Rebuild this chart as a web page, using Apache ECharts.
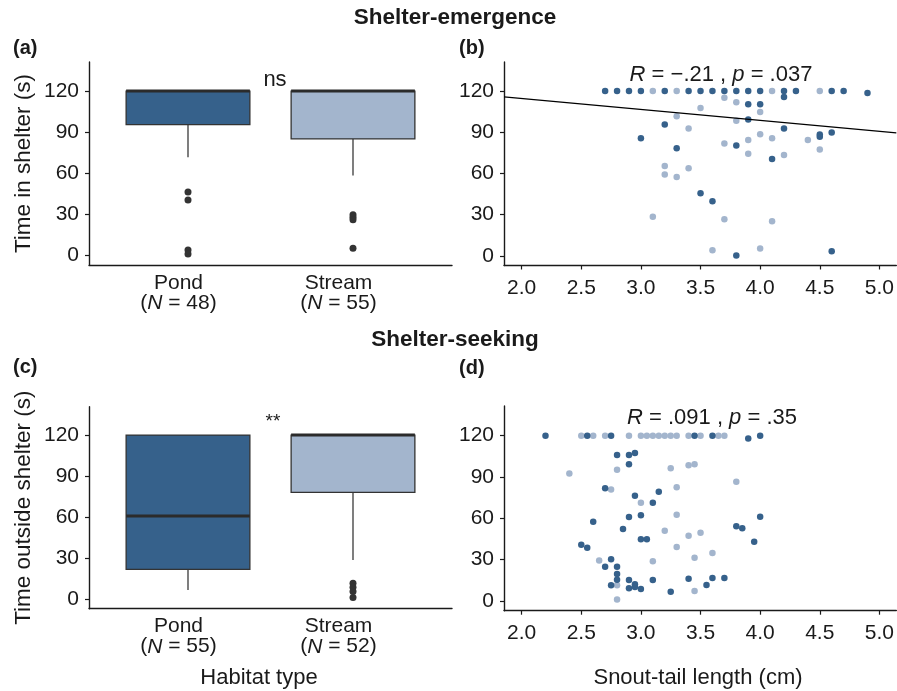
<!DOCTYPE html>
<html><head><meta charset="utf-8">
<script src="https://cdn.jsdelivr.net/npm/echarts@6/dist/echarts.min.js"></script>
<style>html,body{margin:0;padding:0;background:#fff}#c{width:897px;height:691px}</style>
</head><body><div id="c"></div>
<script>
// ---------------- data ----------------
const habitats = ['Pond', 'Stream'];
const emergenceN = [48, 55];
const seekingN = [55, 52];
// boxplot stats: [lowerWhisker, Q1, median, Q3, upperWhisker]
const emergenceBox = [[71.7, 95.6, 120, 120, 120], [58.5, 85.1, 120, 120, 120]];
const emergenceOutliers = [[46.4, 40.5, 4.2, 1.2], [29.8, 28.1, 26.1, 5.4]];
const seekingBox = [[6.8, 21.9, 60.8, 120, 120], [28.7, 78.1, 120, 120, 120]];
const seekingOutliers = [[], [11.7, 8.8, 5.6, 1.2]];
const yTicks = [0, 30, 60, 90, 120];
const xTicks = [2.0, 2.5, 3.0, 3.5, 4.0, 4.5, 5.0];

// scatter points: [snout-tail length (cm), time (s)]
const emergencePond = [
  [2.7,120],[2.8,120],[2.9,120],[3.0,120],[3.2,120],[3.4,120],[3.5,120],[3.6,120],[3.7,120],[3.8,120],
  [3.9,120],[4.0,120],[4.2,120],[4.3,120],[4.6,120],[4.7,120],[4.9,118.5],
  [3.9,110.3],[4.0,110.3],[4.2,115.5],[3.9,99.2],[3.2,95.6],[4.2,92.7],[4.6,89.8],[4.5,88.3],[4.5,86.6],
  [3.0,85.5],[3.8,80.3],[3.3,78.3],[4.1,70.4],[3.5,45.5],[3.6,39.8],[3.8,0.2],[4.6,3.4]
];
const emergenceStream = [
  [3.1,120],[3.3,120],[4.1,120],[4.5,120],
  [3.7,115.0],[3.8,111.8],[3.5,107.5],[4.0,104.7],[3.3,101.5],[3.8,98.2],[3.4,92.7],[4.0,88.5],[4.1,85.6],
  [3.9,84.3],[4.4,84.2],[3.7,81.8],[4.5,77.4],[3.9,74.2],[4.2,73.3],[3.2,65.4],[3.4,63.7],[3.2,59.2],
  [3.3,57.3],[3.1,28.4],[3.7,26.7],[4.1,25.2],[3.6,4.1],[4.0,5.3]
];
const emergenceFit = [130.3, -7.93]; // intercept, slope
const seekingPond = [
  [2.2,120],[2.55,120],[2.75,120],[3.45,120],[3.6,120],[3.9,118],[4.0,120],
  [2.8,106],[2.9,106],[2.95,107.4],[2.9,99.2],[2.7,81.8],[2.95,76.4],[3.15,79.3],[3.1,71.3],[2.9,61],
  [3.0,62.2],[2.6,57.6],[2.85,52.2],[3.0,44.8],[3.05,44.8],[2.5,40.9],[2.55,38.7],[2.75,30.3],[2.7,24.9],
  [2.8,24.9],[2.8,19.6],[2.8,15.5],[2.75,11.4],[2.9,15.2],[2.9,9.2],[2.95,12.1],[2.95,10.2],[3.0,8.7],
  [3.1,15.2],[4.0,61.2],[3.8,54.2],[3.85,52.8],[3.95,43.0],[3.4,16.2],[3.6,16.7],[3.7,16.7],[3.55,11.6],[3.25,6.8]
];
const seekingStream = [
  [2.5,120],[2.6,120],[2.7,120],[2.9,120],[3.0,120],[3.05,120],[3.1,120],[3.15,120],[3.2,120],[3.25,120],
  [3.3,120],[3.4,120],[3.5,120],[3.65,120],[3.7,120],
  [2.8,95.3],[2.4,92.6],[2.75,81.0],[3.0,71.3],[2.65,29.5],[3.1,28.8],[2.8,11.4],[2.8,1.2],[3.25,96.3],
  [3.4,98.5],[3.45,99.2],[3.8,86.6],[3.3,82.5],[3.3,62.6],[3.2,51.0],[3.5,49.6],[3.4,47.4],[3.3,39.2],
  [3.6,34.8],[3.45,31.4],[3.45,7.3]
];

// ---------------- style ----------------
const DARK = '#36618B', LIGHT = '#A3B5CD';
const boxColors = [DARK, LIGHT];
const FONT = '"Liberation Sans", Arial, Helvetica, sans-serif';
const INK = '#1a1a1a';
const X_MIN = 1.852, X_MAX = 5.142;
const LABEL_SHIFT = [19, 29]; // right padding that nudges category labels left

const chart = echarts.init(document.getElementById('c'), null, {renderer: 'canvas'});

function valueYAxis(gridIndex, min, max, name, nameGap) {
  return {
    type: 'value', gridIndex, min, max,
    name: name || '', nameLocation: 'middle', nameGap: nameGap || 0,
    nameTextStyle: {fontFamily: FONT, fontSize: 22.5, color: INK},
    axisLine: {show: true, lineStyle: {color: INK, width: 1.4}},
    axisTick: {show: true, length: 4, lineStyle: {color: INK, width: 1.2}, customValues: yTicks},
    axisLabel: {fontFamily: FONT, fontSize: 21, color: INK, margin: 10, customValues: yTicks},
    splitLine: {show: false}
  };
}
function catXAxis(gridIndex, nArr) {
  const base = {fontFamily: FONT, fontSize: 21, color: INK, lineHeight: 20};
  const rich = {n: Object.assign({fontStyle: 'italic'}, base), o: Object.assign({}, base)};
  LABEL_SHIFT.forEach((p, i) => {
    rich['t' + i] = Object.assign({padding: [0, p, 0, 0]}, base);
    rich['e' + i] = Object.assign({padding: [0, p, 0, 0]}, base);
  });
  return {
    type: 'value', gridIndex, min: 0.4, max: 2.6,
    axisLine: {show: true, onZero: false, lineStyle: {color: INK, width: 1.4}},
    axisTick: {show: false},
    axisLabel: Object.assign({}, base, {
      margin: 8,
      customValues: [1, 2],
      formatter: v => {
        const i = Math.round(v) - 1;
        return '{t' + i + '|' + habitats[i] + '}\n{o|(}{n|N}{e' + i + '| = ' + nArr[i] + ')}';
      },
      rich
    }),
    splitLine: {show: false}
  };
}
function lenXAxis(gridIndex) {
  return {
    type: 'value', gridIndex, min: X_MIN, max: X_MAX,
    axisLine: {show: true, onZero: false, lineStyle: {color: INK, width: 1.4}},
    axisTick: {show: true, length: 4, lineStyle: {color: INK, width: 1.2}, customValues: xTicks},
    axisLabel: {fontFamily: FONT, fontSize: 21, color: INK, margin: 12, customValues: xTicks,
      formatter: v => v.toFixed(1)},
    splitLine: {show: false}
  };
}

function renderBox(params, api) {
  const x = api.value(0);
  const lo = api.value(1), q1 = api.value(2), med = api.value(3), q3 = api.value(4), hi = api.value(5);
  const halfW = api.size([0.75, 0])[0] / 2;
  const pLo = api.coord([x, lo]), pQ1 = api.coord([x, q1]), pMed = api.coord([x, med]);
  const pQ3 = api.coord([x, q3]), pHi = api.coord([x, hi]);
  const fill = boxColors[params.dataIndex];
  const children = [];
  if (pLo[1] - pQ1[1] > 0.5) children.push({type: 'line', shape: {x1: pLo[0], y1: pLo[1], x2: pQ1[0], y2: pQ1[1]}, style: {stroke: '#3a3a3a', lineWidth: 1.3}});
  if (pQ3[1] - pHi[1] > 0.5) children.push({type: 'line', shape: {x1: pQ3[0], y1: pQ3[1], x2: pHi[0], y2: pHi[1]}, style: {stroke: '#3a3a3a', lineWidth: 1.3}});
  children.push({type: 'rect', shape: {x: pQ1[0] - halfW, y: pQ3[1], width: 2 * halfW, height: pQ1[1] - pQ3[1]},
    style: {fill, stroke: '#333', lineWidth: 1.3}});
  children.push({type: 'line', shape: {x1: pMed[0] - halfW, y1: pMed[1], x2: pMed[0] + halfW, y2: pMed[1]},
    style: {stroke: '#2b2b2b', lineWidth: 3}});
  return {type: 'group', children};
}
function boxData(stats) { return stats.map((s, i) => [i + 1].concat(s)); }
function outlierData(outs) {
  const res = [];
  outs.forEach((arr, i) => arr.forEach(v => res.push([i + 1, v])));
  return res;
}
function fitLine(fit) { return [X_MIN, X_MAX].map(x => [x, fit[0] + fit[1] * x]); }

const scatterStyle = (color) => ({symbol: 'circle', symbolSize: 6.5, itemStyle: {color, opacity: 1}});

function txt(x, y, text, size, opts) {
  return {
    type: 'text', x, y, silent: true,
    style: Object.assign({text, fontFamily: FONT, fontSize: size, fill: INK, align: 'center', verticalAlign: 'middle'}, opts || {})
  };
}
const richItalic = (size) => ({i: {fontStyle: 'italic', fontFamily: FONT, fontSize: size, fill: INK}});

const option = {
  backgroundColor: '#fff',
  animation: false,
  grid: [
    {left: 89, right: 445, top: 62, bottom: 426},
    {left: 504, right: 0, top: 62, bottom: 425.5},
    {left: 89, right: 445, top: 406.7, bottom: 82.3},
    {left: 504, right: 0, top: 406, bottom: 80.3}
  ],
  xAxis: [catXAxis(0, emergenceN), lenXAxis(1), catXAxis(2, seekingN), lenXAxis(3)],
  yAxis: [
    valueYAxis(0, -6.8, 141.2, 'Time in shelter (s)', 54),
    valueYAxis(1, -7.0, 141.0),
    valueYAxis(2, -6.9, 140.7, 'Time outside shelter (s)', 54),
    valueYAxis(3, -7.0, 141.5)
  ],
  series: [
    {type: 'custom', xAxisIndex: 0, yAxisIndex: 0, renderItem: renderBox, data: boxData(emergenceBox),
      encode: {x: 0, y: [1, 2, 3, 4, 5]}, silent: true},
    {type: 'scatter', xAxisIndex: 0, yAxisIndex: 0, data: outlierData(emergenceOutliers), symbolSize: 7,
      itemStyle: {color: '#333', opacity: 1}, silent: true},
    {type: 'custom', xAxisIndex: 2, yAxisIndex: 2, renderItem: renderBox, data: boxData(seekingBox),
      encode: {x: 0, y: [1, 2, 3, 4, 5]}, silent: true},
    {type: 'scatter', xAxisIndex: 2, yAxisIndex: 2, data: outlierData(seekingOutliers), symbolSize: 7,
      itemStyle: {color: '#333', opacity: 1}, silent: true},
    Object.assign({type: 'scatter', xAxisIndex: 1, yAxisIndex: 1, data: emergenceStream, silent: true}, scatterStyle(LIGHT)),
    Object.assign({type: 'scatter', xAxisIndex: 1, yAxisIndex: 1, data: emergencePond, silent: true}, scatterStyle(DARK)),
    {type: 'line', xAxisIndex: 1, yAxisIndex: 1, data: fitLine(emergenceFit), showSymbol: false, symbol: 'none',
      lineStyle: {color: '#000', width: 1.3}, silent: true, z: 5},
    Object.assign({type: 'scatter', xAxisIndex: 3, yAxisIndex: 3, data: seekingStream, silent: true}, scatterStyle(LIGHT)),
    Object.assign({type: 'scatter', xAxisIndex: 3, yAxisIndex: 3, data: seekingPond, silent: true}, scatterStyle(DARK))
  ],
  graphic: [
    txt(455, 18, 'Shelter-emergence', 22.5, {fontWeight: 'bold'}),
    txt(455, 340, 'Shelter-seeking', 22.5, {fontWeight: 'bold'}),
    txt(13, 48, '(a)', 20, {fontWeight: 'bold', align: 'left'}),
    txt(459, 48, '(b)', 20, {fontWeight: 'bold', align: 'left'}),
    txt(13, 367, '(c)', 20, {fontWeight: 'bold', align: 'left'}),
    txt(459, 368, '(d)', 20, {fontWeight: 'bold', align: 'left'}),
    txt(275, 80, 'ns', 22),
    txt(273, 422, '**', 19),
    txt(721, 75, '{i|R} = −.21 , {i|p} = .037', 22, {rich: richItalic(22)}),
    txt(712, 418, '{i|R} = .091 , {i|p} = .35', 22, {rich: richItalic(22)}),
    txt(259, 678, 'Habitat type', 22),
    txt(698, 678, 'Snout-tail length (cm)', 22)
  ]
};
chart.setOption(option);
</script>
</body></html>
